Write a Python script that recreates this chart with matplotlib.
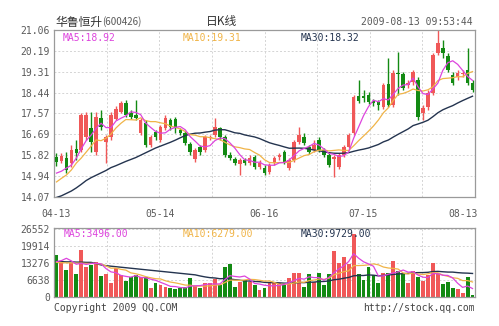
import numpy as np
import pandas as pd
import matplotlib
matplotlib.use("Agg")
import matplotlib.pyplot as plt

# daily K-line, 2009-04-13 .. 2009-08-13
opens = [15.74, 15.58, 15.70, 15.49, 16.08, 16.04, 16.58, 16.96, 15.95, 17.38,
         16.37, 16.58, 17.33, 17.63, 18.00, 17.59, 17.50, 16.75, 17.17, 16.25,
         16.79, 16.46, 16.96, 17.29, 17.33, 16.87, 16.75, 16.29, 15.66, 16.16,
         16.04, 16.54, 16.66, 16.96, 16.58, 15.83, 15.66, 15.45, 15.62, 15.49,
         15.74, 15.33, 15.28, 15.12, 15.49, 15.74, 15.95, 15.28, 15.62, 16.37,
         16.58, 16.16, 16.04, 16.46, 16.04, 15.83, 15.66, 15.33, 15.83, 16.16,
         16.75, 18.30, 18.30, 18.34, 18.09, 18.05, 17.84, 18.80, 17.92, 19.26,
         19.22, 18.76, 18.88, 18.97, 17.59, 17.84, 18.42, 20.10, 20.31, 19.97,
         19.18, 19.09, 19.22, 19.39, 18.84]
highs = [15.91, 15.91, 15.95, 16.25, 16.46, 17.59, 17.63, 17.63, 17.63, 17.71,
         16.66, 17.63, 17.88, 18.09, 18.13, 17.71, 18.13, 17.38, 17.29, 16.66,
         16.87, 17.08, 17.50, 17.38, 17.42, 16.96, 16.83, 16.37, 16.12, 16.25,
         16.66, 16.66, 17.38, 17.00, 16.66, 15.95, 15.74, 15.70, 15.70, 15.83,
         15.83, 15.62, 15.41, 15.49, 15.79, 15.91, 16.04, 15.70, 16.46, 17.00,
         16.75, 16.25, 16.46, 16.58, 16.12, 15.95, 15.83, 15.91, 16.25, 16.75,
         18.34, 18.97, 18.55, 18.47, 18.17, 18.13, 18.84, 19.89, 19.39, 20.14,
         19.30, 18.97, 19.39, 19.09, 17.92, 18.55, 20.10, 21.06, 20.64, 20.10,
         19.30, 19.39, 19.39, 20.31, 18.97]
lows = [15.37, 15.49, 15.07, 15.33, 15.62, 15.95, 16.46, 15.95, 15.83, 16.87,
        15.49, 16.46, 17.29, 17.59, 17.42, 17.33, 17.29, 16.66, 16.16, 16.16,
        16.46, 16.37, 16.87, 16.87, 16.75, 16.66, 16.25, 15.83, 15.54, 15.83,
        15.95, 16.46, 16.58, 16.46, 15.74, 15.62, 15.41, 14.99, 15.41, 15.41,
        15.24, 15.24, 14.99, 15.03, 15.41, 15.62, 15.45, 15.20, 15.54, 16.29,
        16.25, 15.87, 15.95, 15.95, 15.74, 15.33, 14.91, 15.24, 15.74, 16.12,
        16.66, 18.00, 18.05, 17.96, 17.88, 17.71, 17.75, 17.84, 17.84, 18.34,
        18.55, 18.63, 18.76, 17.29, 17.29, 17.71, 18.34, 20.01, 19.89, 19.30,
        18.76, 18.97, 19.09, 18.76, 18.47]
closes = [15.54, 15.79, 15.20, 16.04, 15.91, 17.50, 17.50, 16.37, 17.42, 17.00,
          16.58, 17.50, 17.75, 18.00, 17.50, 17.42, 17.38, 17.29, 16.25, 16.58,
          16.58, 17.00, 17.38, 17.00, 16.96, 16.75, 16.33, 15.95, 16.04, 15.95,
          16.58, 16.58, 17.00, 16.58, 15.83, 15.70, 15.49, 15.62, 15.49, 15.70,
          15.33, 15.49, 15.07, 15.41, 15.70, 15.83, 15.54, 15.62, 16.37, 16.66,
          16.33, 15.95, 16.25, 16.04, 15.83, 15.41, 15.74, 15.83, 16.16, 16.66,
          18.26, 18.09, 18.21, 18.05, 18.00, 17.92, 18.76, 17.92, 19.26, 19.22,
          18.63, 18.84, 19.30, 17.42, 17.80, 18.42, 20.01, 20.52, 20.10, 19.39,
          18.84, 19.26, 19.26, 18.84, 18.55]
volumes = [16600, 14200, 10800, 13500, 9200, 18500, 11900, 12700, 13900, 8100,
           9200, 5400, 11200, 8500, 6200, 7700, 8500, 7700, 7700, 3500,
           5400, 4600, 3900, 3500, 3100, 3500, 3900, 7300, 4200, 3500,
           5400, 5400, 6900, 4600, 11900, 13100, 3900, 5800, 6500, 5800,
           4600, 2700, 3500, 5400, 5800, 5400, 4600, 7300, 9600, 9600,
           3900, 9200, 5800, 9600, 4600, 9200, 18100, 13500, 15800, 13100,
           24600, 9200, 6500, 11600, 8500, 5400, 9600, 9600, 14200, 10400,
           9200, 5400, 10400, 7700, 6200, 8500, 13500, 9600, 5000, 5800,
           3500, 3100, 1500, 7700, 800]

# moving averages at the left edge, where older days are not on the chart
ma5_head = [15.07, 15.15, 15.28, 15.40]
ma10_head = [14.70, 14.85, 14.99, 15.20, 15.49, 15.70, 15.95, 16.20, 16.46]
ma30_head = [14.05, 14.12, 14.22, 14.32, 14.45, 14.60, 14.76, 14.88, 14.98, 15.08,
             15.18, 15.30, 15.38, 15.47, 15.56, 15.64, 15.72, 15.82, 15.92, 16.02,
             16.12, 16.20, 16.28, 16.36, 16.45, 16.55, 16.64, 16.70, 16.74]
vma5_head = [13900, 14300, 15200, 14200]
vma10_head = [13600, 13500, 13400, 13400, 13300, 13300, 13200, 13200, 13100]
vma30_head = [13900, 13900, 13800, 13800, 13700, 13700, 13600, 13600, 13100, 12600,
              12300, 12100, 11900, 11700, 11500, 11300, 11100, 10900, 10700, 10500,
              10300, 10100, 9900, 9700, 9500, 9300, 9100, 8900, 8700]

price_ticks = [14.07, 14.94, 15.82, 16.69, 17.57, 18.44, 19.31, 20.19, 21.06]
vol_ticks = [0, 6638, 13276, 19914, 26552]
date_pos = [0, 21, 42, 62, 82]
date_labels = ["04-13", "05-14", "06-16", "07-15", "08-13"]

RED = "#f05858"
GREEN = "#138a13"
C5, C10, C30 = "#dd44dd", "#f0b448", "#24344f"
GRID = "#d4d4d4"
MONO = "DejaVu Sans Mono"
CJK = ["Noto Sans CJK SC", "DejaVu Sans"]
TXT = "#5a5a5a"


def moving_avg(values, n, head):
    s = pd.Series(values, dtype=float).rolling(n).mean().to_numpy()
    s[:n - 1] = head
    return s


n = len(closes)
x = np.arange(n)
up = np.array(closes) >= np.array(opens)
colors = [RED if u else GREEN for u in up]

W, H = 499, 326
fig = plt.figure(figsize=(W / 100, H / 100), dpi=100)


def box(l, t, r, b):
    return [l / W, 1 - b / H, (r - l) / W, (b - t) / H]


ax = fig.add_axes(box(54, 30, 475, 197))
axv = fig.add_axes(box(54, 228, 475, 297))

for a in (ax, axv):
    a.set_xlim(-0.5, n - 0.5)
    a.set_axisbelow(True)
    a.grid(axis="y", color=GRID, lw=0.7, ls=(0, (2, 2)))
    for k in range(1, 8):
        a.axvline(-0.5 + k * n / 8, color=GRID, lw=0.7, ls=(0, (2, 2)), zorder=0)
    for sp in a.spines.values():
        sp.set_color("#9a9a9a")
        sp.set_linewidth(0.9)
    a.tick_params(length=0, labelsize=7, colors=TXT, pad=3)

# candles
body = np.abs(np.array(closes) - np.array(opens))
body = np.maximum(body, 0.03)
bottom = np.minimum(opens, closes)
ax.vlines(x, lows, highs, colors=colors, lw=1.0, zorder=2)
ax.bar(x, body, bottom=bottom, width=0.72, color=colors, zorder=3)

ax.plot(x, moving_avg(closes, 30, ma30_head), color=C30, lw=1.0, zorder=4)
ax.plot(x, moving_avg(closes, 10, ma10_head), color=C10, lw=0.9, zorder=4)
ax.plot(x, moving_avg(closes, 5, ma5_head), color=C5, lw=0.9, zorder=4)

ax.set_ylim(price_ticks[0], price_ticks[-1])
ax.set_yticks(price_ticks)
ax.set_yticklabels([f"{v:.2f}" for v in price_ticks], fontfamily=MONO)
ax.set_xticks(date_pos)
ax.set_xticklabels(date_labels, fontfamily=MONO)
ax.tick_params(axis="x", pad=9)

# volume
axv.bar(x, volumes, width=0.78, color=colors, zorder=2)
axv.plot(x, moving_avg(volumes, 30, vma30_head), color=C30, lw=1.0, zorder=3)
axv.plot(x, moving_avg(volumes, 10, vma10_head), color=C10, lw=0.9, zorder=3)
axv.plot(x, moving_avg(volumes, 5, vma5_head), color=C5, lw=0.9, zorder=3)
axv.set_ylim(0, 27100)
axv.set_yticks(vol_ticks)
axv.set_yticklabels([str(v) for v in vol_ticks], fontfamily=MONO)
axv.set_xticks([])


def ftext(px, py, s, **kw):
    fig.text(px / W, 1 - py / H, s, va="center", **kw)


ftext(55, 22, "华鲁恒升", fontfamily=CJK, fontsize=8.5, color="#333333")
ftext(102, 22, "(600426)", fontfamily=CJK, fontsize=7, color=TXT)
ftext(222, 22, "日K线", fontfamily=CJK, fontsize=8.5, color="#333333", ha="center")
ftext(473, 22, "2009-08-13 09:53:44", fontfamily=MONO, fontsize=7, color=TXT, ha="right")

ftext(63, 38, "MA5:18.92", fontfamily=MONO, fontsize=7, color=C5)
ftext(183, 38, "MA10:19.31", fontfamily=MONO, fontsize=7, color=C10)
ftext(301, 38, "MA30:18.32", fontfamily=MONO, fontsize=7, color=C30)

ftext(64, 234, "MA5:3496.00", fontfamily=MONO, fontsize=7, color=C5)
ftext(183, 234, "MA10:6279.00", fontfamily=MONO, fontsize=7, color=C10)
ftext(301, 234, "MA30:9729.00", fontfamily=MONO, fontsize=7, color=C30)

ftext(54, 308, "Copyright 2009 QQ.COM", fontfamily=MONO, fontsize=7, color="#444444")
ftext(475, 308, "http://stock.qq.com", fontfamily=MONO, fontsize=7, color="#444444", ha="right")

fig.savefig("out.png", dpi=100)
